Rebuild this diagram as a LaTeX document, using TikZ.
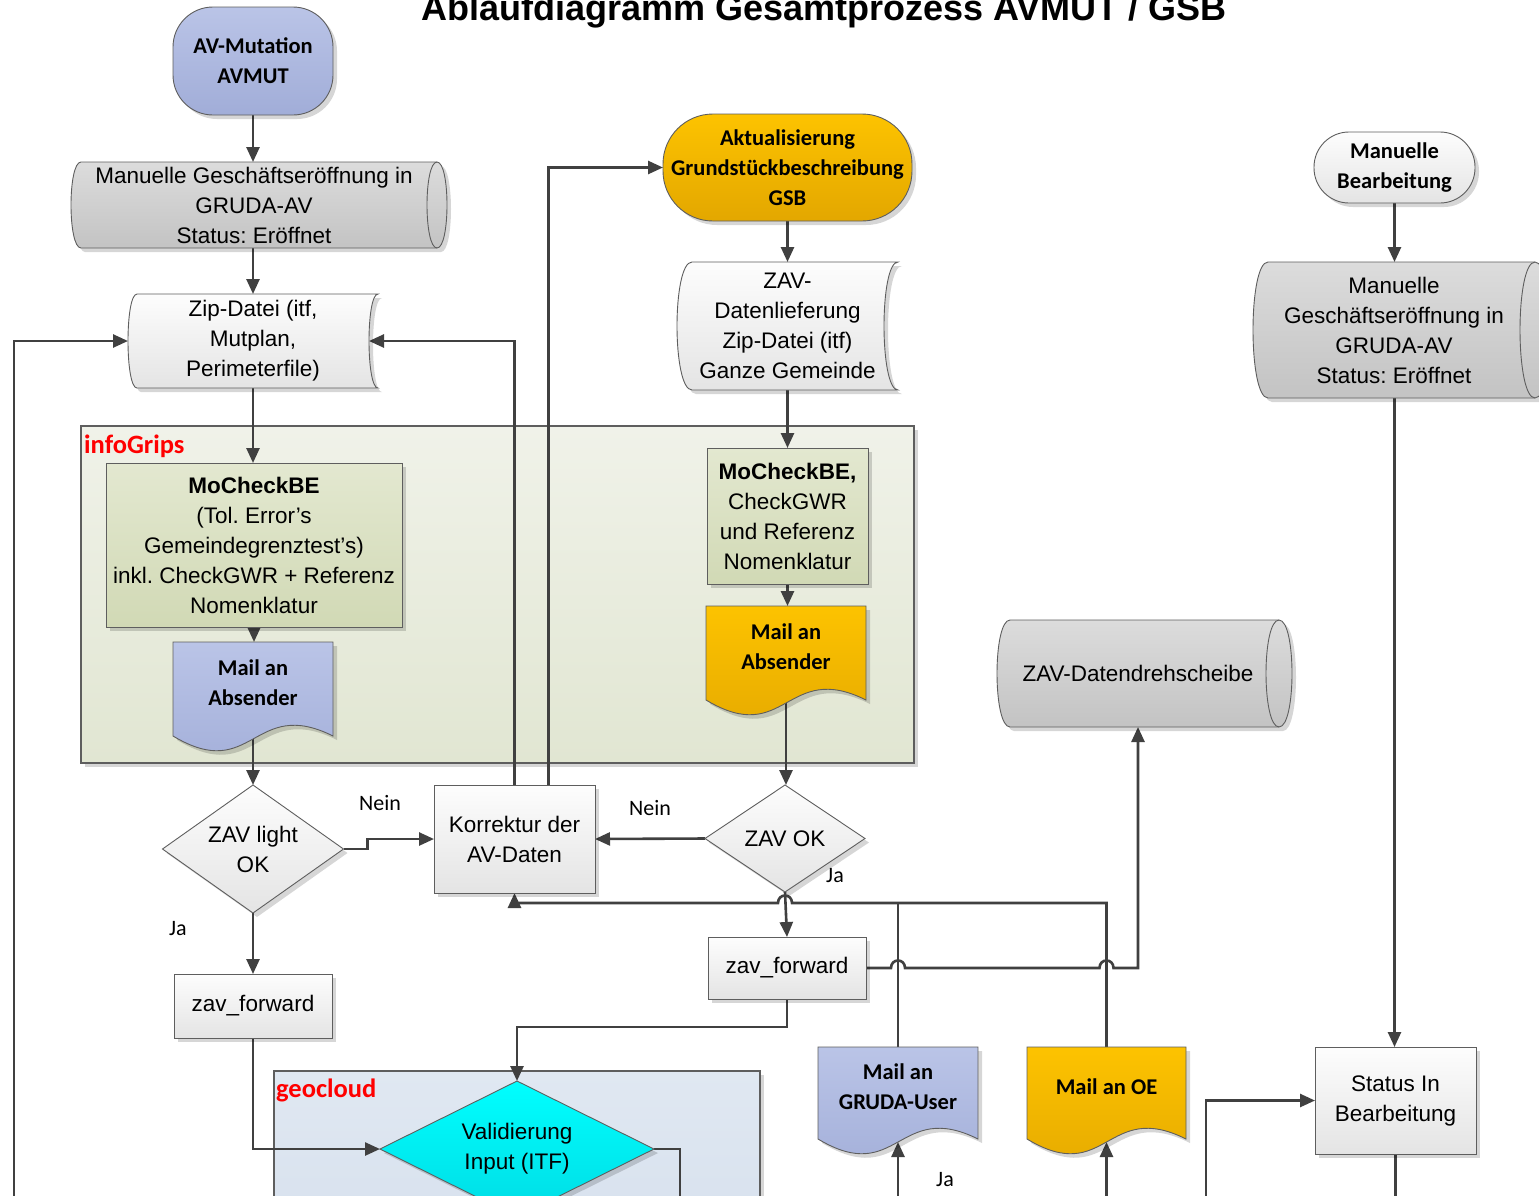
\documentclass[tikz,border=0pt]{standalone}
\usepackage{fontspec}
\setmainfont{Liberation Sans}
\newfontfamily\calfont{Carlito}
\usetikzlibrary{arrows.meta,calc,shadows}
\frenchspacing

\definecolor{linec}{HTML}{404040}
\definecolor{bordc}{HTML}{5E5E5E}
\definecolor{blueT}{HTML}{BAC4E7}
\definecolor{blueB}{HTML}{A1ADD8}
\definecolor{orT}{HTML}{FDC300}
\definecolor{orB}{HTML}{E3A700}
\definecolor{grT}{HTML}{DCDCDC}
\definecolor{grB}{HTML}{C3C3C3}
\definecolor{whT}{HTML}{FDFDFD}
\definecolor{whB}{HTML}{E4E4E4}
\definecolor{mcT}{HTML}{E3E8D0}
\definecolor{mcB}{HTML}{D1D9B5}
\definecolor{cyT}{HTML}{00FFFF}
\definecolor{cyB}{HTML}{00DCE4}
\definecolor{infT}{HTML}{F0F2E9}
\definecolor{infB}{HTML}{E1E6D2}
\definecolor{geoT}{HTML}{E0E8F2}
\definecolor{geoB}{HTML}{D6E0ED}
\definecolor{labred}{HTML}{FF0000}

\newcommand\fbody{\fontsize{22.5}{30}\selectfont}
\newcommand\fcal{\fontsize{22.5}{30}\selectfont\calfont\bfseries}
\newcommand\flab{\fontsize{22}{26}\selectfont\calfont}
\newcommand\fcont{\fontsize{26.5}{30}\selectfont\calfont\bfseries\color{labred}}

\pgfdeclarelayer{contl}
\pgfdeclarelayer{connl}
\pgfdeclarelayer{shapel}
\pgfsetlayers{contl,connl,shapel,main}

\tikzset{
  nd/.style={inner sep=0pt, outer sep=0pt, align=center, font=\fbody},
  ndc/.style={nd, font=\fcal},
  lbl/.style={inner sep=0pt, font=\flab},
  shp/.style={draw=bordc, line width=0.9pt},
  shad/.style={drop shadow={shadow xshift=4pt, shadow yshift=-4pt, fill=black, opacity=0.16}},
  ln/.style={draw=linec, line width=2.6pt},
  arr/.style={ln, -{Triangle[length=15pt,width=13pt]}},
}

% plain process box
\newcommand\boxshape[3]{\path[shp,shad,top color=#2,bottom color=#3] (#1.north west) rectangle (#1.south east);}
% terminal with rounded ends
\newcommand\termshape[4]{\path[shp,shad,top color=#2,bottom color=#3,rounded corners=#4] (#1.north west) rectangle (#1.south east);}
% decision diamond
\newcommand\diashape[3]{\path[shp,shad,top color=#2,bottom color=#3] (#1.west) -- (#1.north) -- (#1.east) -- (#1.south) -- cycle;}
% document with wavy lower edge (edge 12pt below the node)
\newcommand\docshape[3]{\path[shp,shad,top color=#2,bottom color=#3]
  (#1.north west) -- (#1.north east) -- ($(#1.south east)+(0,12)$)
  .. controls ($(#1.south)+(0,-28)$) and ($(#1.south)+(0,60)$) .. ($(#1.south west)+(0,12)$) -- cycle;}
% stored data: left side bulges out, right side curves in
\newcommand\datashape[5]{\path[shp,shad,top color=#4,bottom color=#5]
  ($(#1.north west)+(#2,0)$) -- (#1.north east)
  .. controls ($(#1.north east)+(-4*#3/3,0)$) and ($(#1.south east)+(-4*#3/3,0)$) .. (#1.south east)
  -- ($(#1.south west)+(#2,0)$)
  .. controls ($(#1.south west)+(-#2/3,0)$) and ($(#1.north west)+(-#2/3,0)$) .. ($(#1.north west)+(#2,0)$) -- cycle;}
% horizontal drum storage; node east = centre of the end ellipse
\newcommand\cylshape[2]{\path[shp,shad,top color=grT,bottom color=grB]
  ($(#1.north west)+(#2,0)$) -- (#1.north east)
  .. controls ($(#1.north east)+(4*#2/3,0)$) and ($(#1.south east)+(4*#2/3,0)$) .. (#1.south east)
  -- ($(#1.south west)+(#2,0)$)
  .. controls ($(#1.south west)+(-#2/3,0)$) and ($(#1.north west)+(-#2/3,0)$) .. ($(#1.north west)+(#2,0)$) -- cycle;
  \draw[shp] (#1.north east) .. controls ($(#1.north east)+(-4*#2/3,0)$) and ($(#1.south east)+(-4*#2/3,0)$) .. (#1.south east);}

\begin{document}
\begin{tikzpicture}[x=1pt,y=-1pt]
\useasboundingbox (0,0) rectangle (1539,1195);

% ---------- title ----------
\node[anchor=base, inner sep=0pt, font=\fontsize{36}{40}\selectfont\bfseries] (title) at (824,20) {Ablaufdiagramm Gesamtprozess AVMUT / GSB};

% ---------- containers ----------
\node[nd, minimum width=833pt, minimum height=337pt] (info) at (497.5,594.5) {};
\node[nd, minimum width=486pt, minimum height=190pt] (geo) at (517,1166) {};
\node[anchor=west, inner sep=0pt, font=\fcont] (infolab) at (84,446) {infoGrips};
\node[anchor=west, inner sep=0pt, font=\fcont] (geolab) at (276,1090) {geocloud};

% ---------- left column ----------
\node[ndc, minimum width=160pt, minimum height=108pt] (avmut) at (253,61) {AV-Mutation\\AVMUT};
\node[nd, minimum width=366pt, minimum height=86pt] (cyl1) at (254,205) {Manuelle Geschäftseröffnung in\\GRUDA-AV\\Status: Eröffnet};
\node[nd, minimum width=250pt, minimum height=94pt] (zip) at (253,341) {Zip-Datei (itf,\\Mutplan,\\Perimeterfile)};
\node[nd, minimum width=296pt, minimum height=164pt] (mcL) at (254,545) {\textbf{MoCheckBE}\\(Tol. Error’s\\Gemeindegrenztest’s)\\inkl. CheckGWR + Referenz\\Nomenklatur};
\node[ndc, minimum width=160pt, minimum height=82pt] (mailL) at (253,683) {Mail an\\Absender};
\node[nd, minimum width=181pt, minimum height=128pt] (d1) at (253,849) {ZAV light\\OK};
\node[nd, minimum width=158pt, minimum height=64pt] (zfL) at (253,1006) {zav\_forward};
\node[nd, minimum width=161pt, minimum height=108pt] (kor) at (514.5,839) {Korrektur der\\AV-Daten};
\node[nd, minimum width=274pt, minimum height=136pt] (val) at (517,1149) {Validierung\\Input (ITF)};

% ---------- middle column ----------
\node[ndc, minimum width=249pt, minimum height=107pt] (gsb) at (787.5,167.5) {Aktualisierung\\Grundstückbeschreibung\\GSB};
\node[nd, minimum width=221pt, minimum height=128pt] (zavd) at (787.5,326) {ZAV-\\Datenlieferung\\Zip-Datei (itf)\\Ganze Gemeinde};
\node[nd, minimum width=161pt, minimum height=136pt] (mcR) at (787.5,516) {\textbf{MoCheckBE,}\\CheckGWR\\und Referenz\\Nomenklatur};
\node[ndc, minimum width=160pt, minimum height=82pt] (mailR) at (786,647) {Mail an\\Absender};
\node[nd, minimum width=160pt, minimum height=107pt] (zok) at (785,838.5) {ZAV OK};
\node[nd, minimum width=158pt, minimum height=62pt] (zfR) at (787,968) {zav\_forward};
\node[ndc, minimum width=160pt, minimum height=80pt] (mailU) at (898,1087) {Mail an\\GRUDA-User};
\node[ndc, minimum width=159pt, minimum height=80pt] (mailO) at (1106.5,1087) {Mail an OE};
\node[nd, minimum width=282pt, minimum height=107pt] (zdd) at (1138,673.5) {ZAV-Datendrehscheibe};

% ---------- right column ----------
\node[ndc, minimum width=161pt, minimum height=71pt] (mb) at (1394.5,167.5) {Manuelle\\Bearbeitung};
\node[nd, minimum width=282pt, minimum height=136pt] (cyl2) at (1394,330) {Manuelle\\Geschäftseröffnung in\\GRUDA-AV\\Status: Eröffnet};
\node[nd, minimum width=161pt, minimum height=107pt] (st) at (1395.5,1100.5) {Status In\\Bearbeitung};

% ---------- branch labels ----------
\node[lbl] (n1) at (380,803) {Nein};
\node[lbl] (n2) at (650,808) {Nein};
\node[lbl] (j1) at (178,929) {Ja};
\node[lbl] (j2) at (835,876) {Ja};
\node[lbl] (j3) at (945,1180) {Ja};

% loose ends running off the lower edge
\coordinate (lin) at (14,1230);
\coordinate (vout) at (680,1230);
\coordinate (uin) at (898,1230);
\coordinate (oin) at (1106.5,1230);
\coordinate (sin) at (1206,1230);
\coordinate (sout) at (0,1230);
\coordinate (jy) at (0,903);

\begin{pgfonlayer}{contl}
  \fill[white] (0,0) rectangle (1539,1195);
  \path[draw=bordc, line width=1.1pt, shad, top color=infT, bottom color=infB] (info.north west) rectangle (info.south east);
  \path[draw=bordc, line width=1.1pt, shad, top color=geoT, bottom color=geoB] (geo.north west) rectangle (geo.south east);
\end{pgfonlayer}

\begin{pgfonlayer}{shapel}
  \termshape{avmut}{blueT}{blueB}{40pt}
  \cylshape{cyl1}{10}
  \datashape{zip}{9}{9}{whT}{whB}
  \boxshape{mcL}{mcT}{mcB}
  \docshape{mailL}{blueT}{blueB}
  \diashape{d1}{whT}{whB}
  \boxshape{zfL}{whT}{whB}
  \boxshape{kor}{whT}{whB}
  \diashape{val}{cyT}{cyB}
  \termshape{gsb}{orT}{orB}{50pt}
  \datashape{zavd}{15}{14}{whT}{whB}
  \boxshape{mcR}{mcT}{mcB}
  \docshape{mailR}{orT}{orB}
  \diashape{zok}{whT}{whB}
  \boxshape{zfR}{whT}{whB}
  \docshape{mailU}{blueT}{blueB}
  \docshape{mailO}{orT}{orB}
  \cylshape{zdd}{13}
  \termshape{mb}{whT}{whB}{35pt}
  \cylshape{cyl2}{15}
  \boxshape{st}{whT}{whB}
\end{pgfonlayer}

\begin{pgfonlayer}{connl}
  % AVMUT chain
  \draw[arr] (avmut.south) -- (avmut.south |- cyl1.north);
  \draw[arr] (avmut.south |- cyl1.south) -- (zip.north);
  \draw[arr] (zip.south) -- (zip.south |- mcL.north);
  \draw[arr] (mcL.south) -- (mcL.south |- mailL.north);
  \draw[arr] (mailL.south) -- (d1.north);
  \draw[arr] (d1.east) -- ++(24,0) |- (kor.west);
  \draw[arr] (d1.south) -- (zfL.north);
  \draw[arr] (zfL.south) |- (val.west);
  \draw[ln] (val.east) -| (vout);
  \draw[arr] (lin) |- (zip.west);
  \draw[arr] (kor.north) |- ($(zip.east)+(-9,0)$);
  \draw[arr] ($(kor.north)+(34,0)$) |- (gsb.west);
  % GSB chain
  \draw[arr] (gsb.south) -- (zavd.north);
  \draw[arr] (zavd.south) -- (mcR.north);
  \draw[arr] (mcR.south) -- (mcR.south |- mailR.north);
  \draw[arr] (mailR.south) -- (mailR.south |- zok.north);
  \draw[arr] (zok.west) -- (kor.east);
  \draw[arr] (zok.south) -- (zfR.north);
  % return to the correction step, hopping over the ZAV OK exit
  \draw[arr] (mailO.north) -- (mailO.north |- jy)
    -- ($(zok.south |- jy)+(7,0)$) .. controls ($(zok.south |- jy)+(7,-10)$) and ($(zok.south |- jy)+(-7,-10)$) .. ($(zok.south |- jy)+(-7,0)$)
    -- (kor.south |- jy) -- (kor.south);
  \draw[ln] (mailU.north) -- (mailU.north |- jy);
  % forward to the data hub, hopping over both mail lines
  \draw[arr] (zfR.east)
    -- ($(mailU.north |- zfR.east)+(-7,0)$) .. controls ($(mailU.north |- zfR.east)+(-7,-10)$) and ($(mailU.north |- zfR.east)+(7,-10)$) .. ($(mailU.north |- zfR.east)+(7,0)$)
    -- ($(mailO.north |- zfR.east)+(-7,0)$) .. controls ($(mailO.north |- zfR.east)+(-7,-10)$) and ($(mailO.north |- zfR.east)+(7,-10)$) .. ($(mailO.north |- zfR.east)+(7,0)$)
    -- (zdd.south |- zfR.east) -- (zdd.south);
  \draw[arr] (zfR.south) -- ++(0,28) -| (val.north);
  \draw[arr] (uin) -- ($(mailU.south)+(0,15)$);
  \draw[arr] (oin) -- ($(mailO.south)+(0,15)$);
  % manual branch
  \draw[arr] (mb.south) -- (mb.south |- cyl2.north);
  \draw[arr] (mb.south |- cyl2.south) -- (mb.south |- st.north);
  \draw[ln] (st.south) -- (st.south |- sout);
  \draw[arr] (sin) |- (st.west);
\end{pgfonlayer}
\end{tikzpicture}
\end{document}
